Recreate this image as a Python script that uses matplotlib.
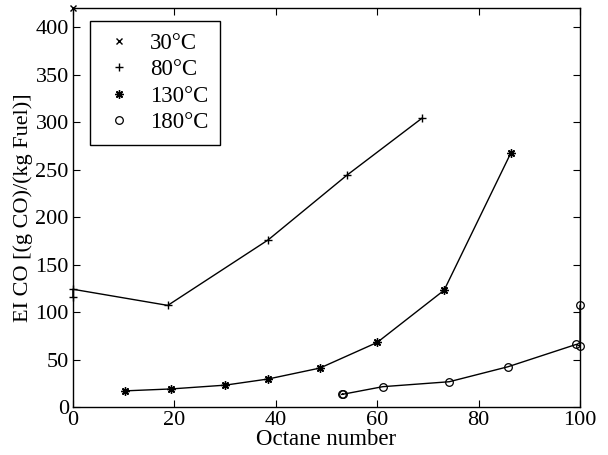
import matplotlib
matplotlib.use("Agg")
import matplotlib.pyplot as plt

plt.rcParams['font.family'] = ['Liberation Serif', 'DejaVu Serif']

labels = ['30°C', '80°C', '130°C', '180°C']

x30 = [0]
y30 = [420]

x80 = [0, 0, 18.7, 38.5, 54, 68.8]
y80 = [116, 124, 107, 176, 244, 304]

x130 = [10.3, 19.3, 30, 38.5, 48.7, 60, 73.2, 86.4]
y130 = [17, 19, 23, 29.5, 41, 68, 123, 268]

x180 = [53.2, 53.0, 61.1, 74.2, 85.8, 99.3, 100, 100]
y180 = [13.7, 13.2, 21.4, 26.6, 42.4, 66, 64, 107]

ast = (8, 2, 0)

fig = plt.figure(figsize=(6.08, 4.55), dpi=100)
ax = fig.add_axes([0.12, 0.1055, 0.834, 0.8765])

ax.plot(x30, y30, 'x', color='black', ms=4, mew=1, linestyle='-', lw=1, label=labels[0], clip_on=False)
ax.plot(x80, y80, '+', color='black', ms=6, mew=1, linestyle='-', lw=1, label=labels[1], clip_on=False)
ax.plot(x130, y130, marker=ast, color='black', ms=6, mew=1, linestyle='-', lw=1, label=labels[2])
ax.plot(x180, y180, 'o', color='black', mfc='none', ms=5.5, mew=0.9, linestyle='-', lw=1, label=labels[3], clip_on=False)

ax.set_xlim(0, 100)
ax.set_ylim(0, 420)
ax.set_xticks(range(0, 101, 20))
ax.set_yticks(range(0, 401, 50))
ax.tick_params(direction='in', top=True, right=True, length=5, width=0.8,
               labelsize=16, pad=3)
for s in ax.spines.values():
    s.set_linewidth(1)

ax.set_xlabel('Octane number', fontsize=16.5, labelpad=-1)
ax.set_ylabel('EI CO [(g CO)/(kg Fuel)]', fontsize=16, labelpad=2)

h, l = ax.get_legend_handles_labels()
h = [plt.Line2D([], [], marker=hh.get_marker(), color='black', mfc=hh.get_markerfacecolor(),
                ms=hh.get_markersize(), mew=hh.get_markeredgewidth(), linestyle='none') for hh in h]
leg = ax.legend(h, l, loc='upper left', bbox_to_anchor=(0.034, 0.967), borderaxespad=0,
                fontsize=16.5, frameon=True, fancybox=False, edgecolor='black', framealpha=1,
                handlelength=1.5, handletextpad=0.6, borderpad=0.5, labelspacing=0.24)
leg.get_frame().set_linewidth(1)

fig.savefig('out.png', dpi=100)
